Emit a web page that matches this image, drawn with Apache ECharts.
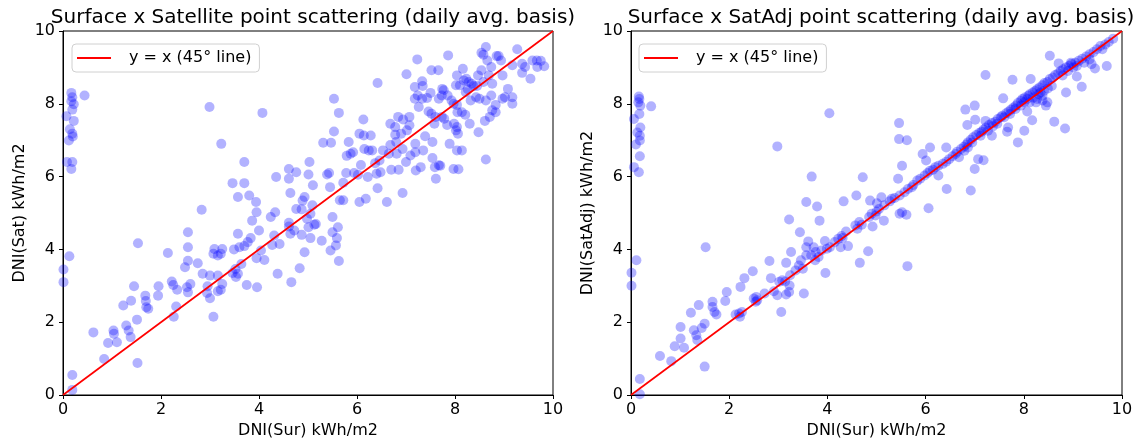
<!DOCTYPE html>
<html>
<head>
<meta charset="utf-8">
<script src="https://cdn.jsdelivr.net/npm/echarts@6/dist/echarts.min.js"></script>
<style>
html,body{margin:0;padding:0;background:#fff;}
#chart{width:1138px;height:445px;}
</style>
</head>
<body>
<div id="chart"></div>
<script>
// ---- Data ----
const titles = ['Surface x Satellite point scattering (daily avg. basis)', 'Surface x SatAdj point scattering (daily avg. basis)'];
const xAxisLabel = 'DNI(Sur) kWh/m2';
const yAxisLabels = ['DNI(Sat) kWh/m2', 'DNI(SatAdj) kWh/m2'];
const legendLabel = 'y = x (45° line)';
const axisTicks = [0, 2, 4, 6, 8, 10];
const diagX = [0, 10];
const diagY = [0, 10];

// Left panel: surface (x) vs satellite (y)
const surLeft = [
0.17,0.19,0.17,0.22,0.44,0.19,0.07,0.22,0.14,0.19,0.20,0.12,0.08,0.19,0.17,0.13,0.01,0.01,0.19,0.19,
8.63,8.54,8.58,7.86,7.23,8.66,8.85,8.89,8.94,9.27,9.17,9.37,9.43,9.37,9.54,9.58,9.67,9.75,9.82,9.68,
7.52,7.66,7.01,6.42,7.33,7.34,7.18,7.50,7.24,7.33,7.26,7.18,7.43,7.74,7.77,7.73,7.67,7.85,7.93,7.97,
8.04,8.05,8.14,8.21,8.04,8.02,8.16,8.18,8.10,8.23,8.28,8.34,8.38,8.45,8.26,8.22,8.32,8.43,8.50,8.58,
8.69,8.54,8.47,8.74,8.76,8.63,8.74,8.83,8.76,8.71,8.83,8.61,8.48,8.30,8.97,8.97,9.08,9.17,9.17,9.02,
8.63,8.04,7.98,8.06,8.02,8.14,8.04,7.97,8.07,7.89,7.84,7.78,7.73,7.60,7.52,7.46,7.58,7.67,7.59,7.61,
7.70,7.54,7.54,7.39,7.35,7.30,7.20,7.19,7.19,7.09,7.07,7.02,7.07,6.94,6.84,6.78,6.68,6.78,6.90,6.80,
6.68,7.00,6.93,6.81,6.65,6.85,6.70,6.93,6.53,6.46,6.37,6.40,6.48,6.42,6.61,6.13,6.14,6.28,6.24,6.31,
6.15,6.05,5.83,5.87,5.79,5.92,6.08,5.94,5.78,6.02,6.22,5.72,6.05,6.18,5.65,5.72,5.53,5.63,5.53,5.31,
5.47,5.43,5.39,5.45,5.50,5.50,5.59,5.61,5.57,5.46,5.63,5.28,5.10,5.03,5.01,4.93,4.89,5.09,4.76,4.61,
4.61,4.64,4.76,4.87,5.05,4.98,5.01,5.13,5.16,4.87,5.05,4.61,4.61,4.64,4.72,4.93,4.83,4.66,4.38,4.42,
4.27,4.31,4.33,4.24,4.35,4.07,4.00,4.04,3.95,4.11,3.96,3.75,3.95,3.94,3.80,3.70,3.70,3.57,3.46,3.86,
3.83,3.77,3.70,3.60,3.57,3.49,3.64,3.57,3.53,3.52,3.46,3.23,2.99,3.25,3.22,3.16,3.09,3.07,3.16,3.25,
3.22,3.16,3.07,3.00,2.95,2.94,3.00,2.85,2.75,2.83,2.55,2.55,2.55,2.49,2.53,2.60,2.55,2.14,2.22,2.25,
2.33,2.31,2.26,1.95,1.94,1.53,1.45,1.39,1.23,1.68,1.69,1.70,1.74,1.51,1.29,1.34,1.38,1.03,1.04,1.10,
0.92,0.84,0.62,1.52
];
const satVals = [
8.30,8.18,8.07,7.99,8.23,7.84,7.66,7.53,7.30,7.18,7.10,6.99,6.40,6.40,6.21,3.81,3.45,3.10,0.55,0.14,
9.56,9.40,9.35,9.33,9.22,9.19,9.31,9.31,9.19,9.50,9.06,9.10,9.01,8.85,8.69,9.19,9.19,9.18,9.03,9.01,
8.92,8.92,8.81,8.57,8.62,8.49,8.46,8.30,8.23,8.14,7.91,8.14,8.16,8.41,8.37,8.23,8.14,8.23,8.09,8.00,
7.97,7.77,7.77,7.70,8.78,8.51,8.96,8.64,8.51,8.69,8.60,8.55,8.49,8.49,8.40,8.32,8.09,8.18,8.14,8.60,
8.78,8.92,8.78,9.01,8.55,8.09,8.23,7.97,7.82,7.64,7.77,7.53,7.22,7.45,8.14,8.78,8.41,8.18,8.00,8.18,
6.47,7.36,7.45,7.18,7.27,6.72,6.72,6.21,6.20,6.90,7.42,7.59,7.64,7.64,7.73,7.79,7.45,6.31,6.26,5.94,
6.30,6.95,6.51,7.11,6.72,6.26,6.17,6.90,6.67,6.58,7.41,7.27,7.64,7.57,7.64,7.36,7.45,7.15,7.18,6.95,
6.87,6.40,6.76,6.63,6.63,6.19,6.19,5.55,6.72,6.44,6.37,6.08,6.12,5.68,5.30,7.57,7.13,7.13,6.72,6.72,
6.76,7.18,6.95,6.63,6.57,6.67,6.32,6.10,6.10,6.05,5.99,5.83,5.30,5.39,5.35,5.35,8.14,7.75,7.24,6.93,
6.93,6.10,6.06,5.71,4.89,4.47,4.31,4.61,4.11,3.97,3.68,4.24,5.76,6.40,6.06,5.44,5.34,5.21,6.12,6.21,
5.94,5.55,5.11,5.10,4.98,4.84,4.61,4.68,4.70,4.40,4.31,4.73,4.63,4.43,4.52,3.92,3.48,3.10,3.33,4.15,
4.12,4.38,5.02,4.89,5.99,7.75,4.52,3.97,3.76,3.71,2.96,3.02,5.02,5.30,5.48,5.82,6.40,5.44,5.82,4.79,
4.31,4.20,4.09,4.06,4.43,4.00,3.60,3.33,3.24,3.46,3.35,6.90,7.91,4.01,3.88,3.83,4.01,3.88,3.28,3.05,
2.89,2.85,2.15,3.28,2.99,2.80,2.66,3.33,3.62,5.09,4.47,4.06,3.69,3.51,2.96,3.05,2.82,3.90,3.12,3.02,
2.89,2.43,2.15,2.99,2.73,4.17,2.99,2.59,2.46,2.73,2.58,2.41,2.37,2.07,1.91,1.77,1.59,1.77,1.68,1.45,
1.43,0.99,1.72,0.88
];

// Right panel: surface (x) vs adjusted satellite (y)
const surRight = [
0.16,0.17,0.15,0.19,0.41,0.17,0.06,0.19,0.13,0.18,0.18,0.10,0.18,0.06,0.16,0.11,0.01,0.01,0.18,0.18,
4.04,2.98,7.22,8.53,7.77,8.14,6.81,7.00,7.58,6.85,7.01,7.22,7.35,7.66,7.68,7.88,8.01,8.17,8.07,8.48,
8.62,8.84,8.86,9.18,9.08,9.45,9.69,8.71,8.96,7.07,7.18,7.00,6.92,6.42,6.68,6.09,5.94,6.01,6.26,6.43,
6.06,5.46,5.46,5.62,5.52,5.44,4.72,4.59,4.33,4.87,5.10,5.01,5.31,5.47,5.61,5.52,5.15,4.92,4.83,4.66,
5.63,4.31,4.42,4.27,3.96,3.95,3.68,3.57,3.79,3.84,3.44,3.22,3.26,3.61,3.57,3.72,3.52,3.16,2.82,2.85,
3.06,2.98,3.16,3.22,3.23,2.48,2.31,2.23,1.95,1.92,1.52,1.38,1.22,1.66,1.66,1.70,1.74,1.50,1.28,1.33,
1.35,1.44,1.01,1.01,1.08,0.89,0.82,0.59,1.50,2.13,2.20,2.26,2.22,
2.50,2.54,2.57,2.55,2.72,2.91,3.02,3.08,3.14,3.24,3.35,3.42,3.50,3.46,3.57,3.67,3.76,3.82,3.75,3.88,
3.99,4.05,4.15,4.22,4.29,4.38,4.57,4.61,4.70,4.65,4.85,4.90,5.00,5.05,4.98,5.16,5.27,5.37,5.47,5.57,
5.64,5.72,5.75,5.83,5.89,5.98,6.04,6.09,6.15,6.20,6.26,6.35,6.42,6.48,6.55,6.61,6.64,6.72,6.78,6.83,
6.86,6.92,6.97,7.03,7.09,7.14,7.18,7.23,7.29,7.35,7.42,7.47,7.53,7.56,7.64,7.69,7.74,7.79,7.84,7.88,
7.94,7.97,8.02,8.07,8.09,8.12,8.18,8.23,8.27,8.32,8.34,8.38,8.42,8.48,8.53,8.59,8.64,8.70,8.75,8.80,
8.86,8.92,8.97,9.05,9.12,9.19,9.27,9.34,9.42,9.49,9.56,9.66,9.73,9.82,
8.19,8.30,8.41,8.49,8.57,8.27,8.38,8.01,7.94,7.83,7.72,7.60,7.46,7.37,7.27,7.12,6.95,6.79,6.86,
8.79,8.90,9.01,9.08,9.23,9.34,9.38,9.60,8.12,8.25,8.38,8.45
];
const satAdjVals = [
8.20,8.13,8.04,7.95,7.93,7.72,7.58,7.35,7.21,7.12,6.99,6.88,6.56,6.26,6.12,3.70,3.36,3.00,0.44,0.02,
7.74,6.83,8.79,9.32,8.66,8.68,7.84,7.95,8.15,7.42,7.56,7.53,7.12,7.23,7.35,6.94,7.26,7.55,7.79,8.04,
7.51,7.32,8.31,8.47,8.75,8.97,9.04,9.11,9.13,6.48,6.45,6.21,5.62,6.80,6.53,6.80,6.62,6.44,6.03,5.66,
5.13,7.47,7.03,7.00,6.30,5.94,5.98,5.48,5.32,5.34,5.43,5.27,5.39,4.98,4.95,5.02,4.79,4.63,3.95,3.63,
3.54,4.31,4.09,4.06,3.35,4.23,6.00,5.30,5.18,4.79,4.47,4.82,3.93,4.22,4.06,4.06,2.79,3.63,3.68,3.21,
2.28,2.74,2.76,2.83,3.01,3.40,3.21,2.97,2.83,2.58,4.06,2.47,2.26,2.56,2.42,2.28,2.21,1.96,1.78,1.64,
1.51,1.84,1.87,1.55,1.30,1.34,0.93,1.07,0.78,2.21,2.24,2.28,2.15,
2.65,2.56,2.60,2.69,2.79,2.85,3.11,3.15,3.12,3.29,3.42,3.56,3.47,3.70,3.84,3.84,3.93,3.79,3.70,3.97,
4.02,4.06,4.20,4.29,4.37,4.49,4.66,4.57,4.68,4.75,4.89,4.98,5.04,5.11,4.93,5.21,5.32,5.41,5.48,5.57,
5.66,5.71,5.77,5.89,5.94,6.03,6.10,6.16,6.19,6.26,6.30,6.35,6.41,6.48,6.56,6.62,6.68,6.76,6.82,6.88,
6.94,7.01,7.08,7.14,7.20,7.23,7.29,7.35,7.42,7.47,7.51,7.58,7.63,7.67,7.74,7.79,7.84,7.90,7.95,8.02,
8.08,8.13,8.17,8.13,8.22,8.26,8.31,8.35,8.40,8.45,8.31,8.51,8.57,8.60,8.68,8.72,8.79,8.84,8.90,8.95,
9.00,9.04,9.09,9.13,9.18,9.24,9.30,9.36,9.42,9.50,9.59,9.63,9.70,9.79,
8.17,8.26,8.35,8.42,8.49,8.13,8.22,8.04,7.95,7.86,7.72,7.63,7.45,7.38,7.26,7.12,6.94,6.71,6.80,
8.78,8.90,9.00,9.04,9.13,9.22,9.09,9.50,8.04,8.04,8.09,7.95
];

// ---- Chart ----
function zip(a, b) { return a.map((v, i) => [v, b[i]]); }
const chart = echarts.init(document.getElementById('chart'), null, {renderer: 'canvas'});
const FONT = 'DejaVu Sans';
const grids = [
  {left: 63, top: 31, width: 490, height: 364},
  {left: 631, top: 31, width: 491, height: 364}
];
function mkAxis(idx, isX) {
  return {
    type: 'value', gridIndex: idx, min: axisTicks[0], max: axisTicks[axisTicks.length - 1],
    interval: axisTicks[1] - axisTicks[0],
    name: isX ? xAxisLabel : yAxisLabels[idx],
    nameLocation: 'middle', nameGap: isX ? 28 : 35,
    nameTextStyle: {fontFamily: FONT, fontSize: 16, color: '#000'},
    axisLine: {show: true, onZero: false, lineStyle: {color: '#000', width: 1}},
    axisTick: {show: true, length: 4, inside: false, lineStyle: {color: '#000', width: 1}},
    axisLabel: {fontFamily: FONT, fontSize: 16, color: '#000', margin: isX ? 7 : 8},
    splitLine: {show: false}
  };
}
const scatterStyle = {color: '#0000ff', opacity: 0.3};
const option = {
  animation: false,
  backgroundColor: '#fff',
  title: [
    {text: titles[0], left: 308, top: 3, textAlign: 'center',
     textStyle: {fontFamily: FONT, fontSize: 20, fontWeight: 'normal', color: '#000'}},
    {text: titles[1], left: 876, top: 3, textAlign: 'center',
     textStyle: {fontFamily: FONT, fontSize: 20, fontWeight: 'normal', color: '#000'}}
  ],
  legend: [0, 1].map(i => ({
    left: i === 0 ? 72 : 639, top: 44,
    data: [{name: legendLabel, icon: 'rect'}],
    itemWidth: 34, itemHeight: 2,
    padding: [6, 8, 6, 5],
    borderColor: '#d0d0d0', borderWidth: 1, borderRadius: 4,
    backgroundColor: 'rgba(255,255,255,0.8)',
    selectedMode: false,
    textStyle: {fontFamily: FONT, fontSize: 16, color: '#000', padding: [0, 0, 0, 13]}
  })),
  grid: grids.map(g => Object.assign({show: true, borderColor: '#000', borderWidth: 1, backgroundColor: 'transparent'}, g)),
  xAxis: [mkAxis(0, true), mkAxis(1, true)],
  yAxis: [mkAxis(0, false), mkAxis(1, false)],
  series: [
    {type: 'scatter', xAxisIndex: 0, yAxisIndex: 0, symbolSize: 10, itemStyle: scatterStyle, data: zip(surLeft, satVals), z: 2},
    {type: 'line', name: legendLabel, xAxisIndex: 0, yAxisIndex: 0, showSymbol: false, symbol: 'none',
     lineStyle: {color: '#ff0000', width: 1.7}, itemStyle: {color: '#ff0000'}, data: zip(diagX, diagY), z: 3},
    {type: 'scatter', xAxisIndex: 1, yAxisIndex: 1, symbolSize: 10, itemStyle: scatterStyle, data: zip(surRight, satAdjVals), z: 2},
    {type: 'line', name: legendLabel, xAxisIndex: 1, yAxisIndex: 1, showSymbol: false, symbol: 'none',
     lineStyle: {color: '#ff0000', width: 1.7}, itemStyle: {color: '#ff0000'}, data: zip(diagX, diagY), z: 3}
  ]
};
chart.setOption(option);
</script>
</body>
</html>
